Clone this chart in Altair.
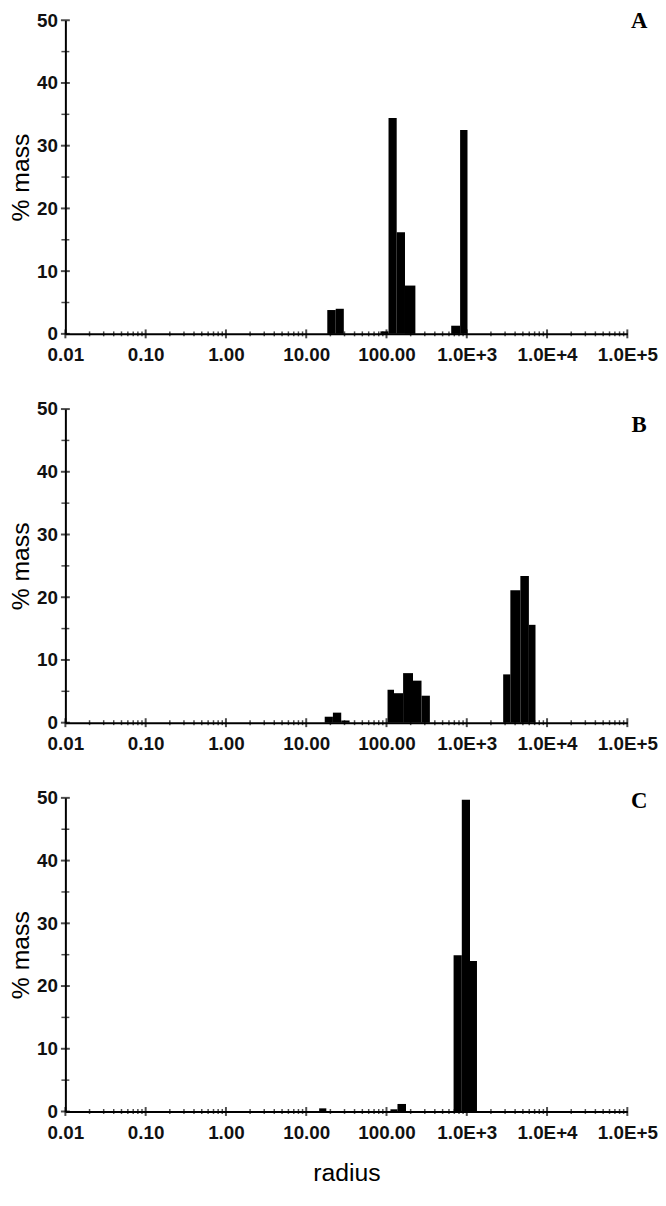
import altair as alt
import pandas as pd

# ---------------- data ----------------
# Panel A : bin edges (radius) and % mass
a_lo = [18.3, 23.3, 84.0, 106.0, 134.0, 170.0, 640.0, 826.0]
a_hi = [23.3, 29.4, 106.0, 134.0, 170.0, 229.0, 826.0, 1021.0]
a_val = [3.8, 4.0, 0.4, 34.4, 16.2, 7.7, 1.3, 32.5]

# Panel B
b_lo = [17.0, 21.5, 27.3, 103.0, 124.0, 161.0, 214.0, 273.0, 2840.0, 3490.0, 4650.0, 5940.0]
b_hi = [21.5, 27.3, 34.7, 124.0, 161.0, 214.0, 273.0, 347.0, 3490.0, 4650.0, 5940.0, 7180.0]
b_val = [0.95, 1.6, 0.35, 5.25, 4.7, 7.9, 6.7, 4.3, 7.7, 21.1, 23.4, 15.6]

# Panel C
c_lo = [14.5, 112.0, 137.0, 685.0, 867.0, 1097.0]
c_hi = [17.8, 137.0, 175.0, 867.0, 1097.0, 1340.0]
c_val = [0.5, 0.35, 1.2, 24.9, 49.7, 24.0]

panel_labels = ["A", "B", "C"]

# axis ticks / labels
x_major = [0.01, 0.1, 1.0, 10.0, 100.0, 1000.0, 10000.0, 100000.0]
x_major_labels = ["0.01", "0.10", "1.00", "10.00", "100.00", "1.0E+3", "1.0E+4", "1.0E+5"]
x_minor = [m * 10.0 ** k for k in range(-2, 5) for m in range(2, 10)]
y_major = [0, 10, 20, 30, 40, 50]
y_minor = [5, 15, 25, 35, 45]

# ---------------- styling ----------------
W, H = 568, 317
FONT = "Liberation Sans"
label_expr = "[{}][indexof([{}], datum.value)]".format(
    ",".join("'%s'" % s for s in x_major_labels),
    ",".join(repr(v) for v in x_major),
)

xscale = alt.Scale(type="log", domain=[0.01, 100000.0], nice=False)
yscale = alt.Scale(domain=[0, 50], nice=False, zero=True)


def panel(lo, hi, val, label, label_dy, show_xtitle):
    xaxis_kw = dict(
        values=x_major, labelExpr=label_expr, ticks=False, grid=False,
        domain=True, domainColor="black", domainWidth=2, labelFlush=False,
        labelPadding=12, labelFont=FONT, labelFontSize=19, labelColor="#111111",
        labelFontWeight="bold", labelOverlap=False, zindex=1,
        titleFont=FONT, titleFontSize=25, titleFontWeight="normal",
        titleColor="black", titlePadding=19,
        title="radius" if show_xtitle else " ",
    )
    if not show_xtitle:
        xaxis_kw.update(titleOpacity=0, titleFontSize=1, titlePadding=0)
    xaxis = alt.Axis(**xaxis_kw)
    yaxis = alt.Axis(
        values=y_major, ticks=False, grid=False, domain=True,
        domainColor="black", domainWidth=2, labelPadding=8,
        labelFont=FONT, labelFontSize=19, labelColor="#111111",
        labelFontWeight="bold", zindex=1,
        title="% mass", titleFont=FONT, titleFontSize=25,
        titleFontWeight="normal", titleColor="black", titlePadding=3)

    df = pd.DataFrame({"lo": lo, "hi": hi, "val": val})
    bars = alt.Chart(df).mark_rect(color="black").encode(
        x=alt.X("lo:Q", scale=xscale, axis=xaxis),
        x2="hi:Q",
        y=alt.Y("val:Q", scale=yscale, axis=yaxis),
        y2=alt.Y2Datum(0),
    )
    xt_major = alt.Chart(pd.DataFrame({"v": x_major})).mark_tick(
        orient="vertical", size=9, thickness=2, color="black").encode(
        x=alt.X("v:Q", scale=xscale, axis=xaxis), y=alt.YDatum(0, axis=yaxis))
    xt_minor = alt.Chart(pd.DataFrame({"v": x_minor})).mark_tick(
        orient="vertical", size=5, thickness=1.5, color="black").encode(
        x=alt.X("v:Q", scale=xscale, axis=xaxis), y=alt.YDatum(0, axis=yaxis))
    yt_major = alt.Chart(pd.DataFrame({"v": y_major})).mark_tick(
        orient="horizontal", size=9, thickness=2, color="black").encode(
        y=alt.Y("v:Q", scale=yscale, axis=yaxis), x=alt.XDatum(0.01, axis=xaxis))
    yt_minor = alt.Chart(pd.DataFrame({"v": y_minor})).mark_tick(
        orient="horizontal", size=8, thickness=1.5, color="black").encode(
        y=alt.Y("v:Q", scale=yscale, axis=yaxis), x=alt.XDatum(0.01, axis=xaxis))
    lab = alt.Chart(pd.DataFrame({"t": [label]})).mark_text(
        font="Liberation Serif", fontWeight="bold", fontSize=23, color="black",
        align="center", baseline="middle", dx=12, dy=label_dy).encode(
        x=alt.XDatum(100000.0, axis=xaxis), y=alt.YDatum(50, axis=yaxis), text="t:N")
    return alt.layer(bars, xt_minor, xt_major, yt_minor, yt_major, lab).properties(
        width=W, height=H)


pa = panel(a_lo, a_hi, a_val, panel_labels[0], 1, False)
pb = panel(b_lo, b_hi, b_val, panel_labels[1], 16, False)
pc = panel(c_lo, c_hi, c_val, panel_labels[2], 3, True)

chart = alt.vconcat(pa, pb, pc, spacing=35).properties(
    padding={"left": 0, "top": -4, "right": 0, "bottom": 0},
    background="white",
).configure_view(stroke=None)

chart.save("out.html", embed_options={"renderer": "svg", "actions": False})
